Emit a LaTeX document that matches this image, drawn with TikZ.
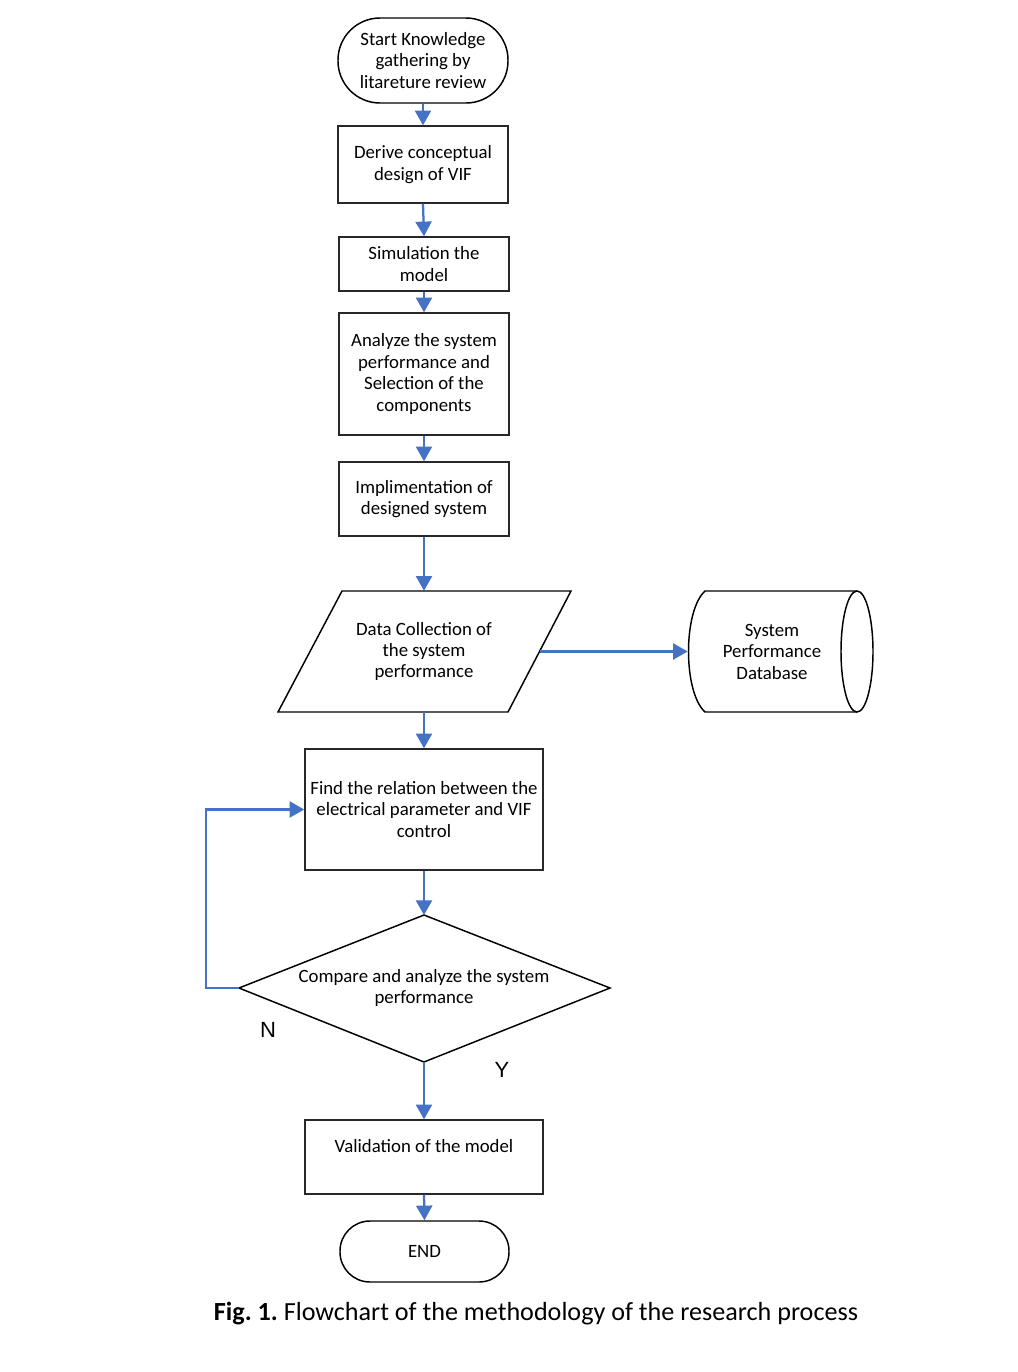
\documentclass[tikz,border=0pt]{standalone}
\usepackage{fontspec}
\setmainfont{Carlito}
\newfontfamily\arialfont{Liberation Sans}
\usetikzlibrary{arrows.meta}
\definecolor{arrblue}{RGB}{68,114,196}
\definecolor{boxline}{RGB}{40,40,40}
\frenchspacing
\begin{document}
\begin{tikzpicture}[x=0.75pt,y=-0.75pt,
  every node/.style={font=\fontsize{14.1}{16.1}\selectfont, align=center, inner sep=0pt},
  procbox/.style={draw=boxline, line width=1.1pt, minimum width=127.5pt},
  term/.style={draw=black, line width=1.1pt, rounded corners=#1},
  shapeline/.style={draw=black, line width=1.1pt, line join=miter},
  flow/.style={draw=arrblue, line width=1.7pt, -{Triangle[width=12pt,length=11pt]}},
]
\useasboundingbox (0,0) rectangle (1018,1372);

% terminals and process boxes
\node[term=31.5pt, minimum width=127.5pt, minimum height=63.75pt] (start) at (423,60.5)
  {Start Knowledge\\gathering by\\litareture review};
\node[procbox, minimum height=57.75pt] (derive) at (423,164.5) {Derive conceptual\\design of VIF};
\node[procbox, minimum height=40.5pt] (sim) at (424,264) {Simulation the\\model};
\node[procbox, minimum height=91.5pt] (anal) at (424,374)
  {Analyze the system\\performance and\\Selection of the\\components};
\node[procbox, minimum height=55.5pt] (impl) at (424,499) {Implimentation of\\designed system};

% parallelogram
\draw[shapeline] (278,712) -- (342,591) -- (571,591) -- (508,712) -- cycle;
\node[minimum width=173.25pt, minimum height=90.75pt] (data) at (424,651.5)
  {Data Collection of\\the system\\performance};

% database
\node[minimum width=126pt, minimum height=90.75pt] (db) at (772,651.5)
  {System\\Performance\\Database};
\draw[shapeline] (857,591) -- (705,591) .. controls (683,611) and (683,692) .. (705,712) -- (857,712);
\draw[shapeline] (857,651.5) ellipse [x radius=16, y radius=60.5];

\node[procbox, minimum width=178.5pt, minimum height=90.75pt] (find) at (424,809.5)
  {Find the relation between the\\electrical parameter and VIF\\control};

% decision
\coordinate (dtop) at (424,915);
\coordinate (dright) at (610,988);
\coordinate (dbot) at (424,1062);
\coordinate (dleft) at (239,988);
\draw[shapeline] (dtop) -- (dright) -- (dbot) -- (dleft) -- cycle;
\node (dec) at (424,988) {Compare and analyze the system\\performance};
\node[font=\arialfont\fontsize{16.5}{18}\selectfont] (nlab) at (268,1030) {N};
\node[font=\arialfont\fontsize{16.5}{18}\selectfont] (ylab) at (502,1070) {Y};

\node[procbox, minimum width=178.5pt, minimum height=55.5pt] (valid) at (424,1157)
  {Validation of the model\\\mbox{}};
\node[term=22.5pt, minimum width=126.75pt, minimum height=45.75pt] (endn) at (424.5,1251.5) {END};

\node[font=\fontsize{19.6}{22}\selectfont] (cap) at (536,1314)
  {\textbf{Fig. 1.} Flowchart of the methodology of the research process};

% connectors
\draw[flow] (start.south) -- (derive.north);
\draw[flow] (derive.south) -- (sim.north);
\draw[flow] (sim.south) -- (anal.north);
\draw[flow] (anal.south) -- (impl.north);
\draw[flow] (impl.south) -- (data.north);
\draw[flow] (data.south) -- (find.north);
\draw[flow] (data.east) -- (db.west);
\draw[flow] (find.south) -- (dtop);
\draw[flow] (dbot) -- (valid.north);
\draw[flow] (valid.south) -- (endn.north);
\draw[flow] (dleft) -- (206,988) -- (206,809.5) -- (find.west);
\end{tikzpicture}
\end{document}
